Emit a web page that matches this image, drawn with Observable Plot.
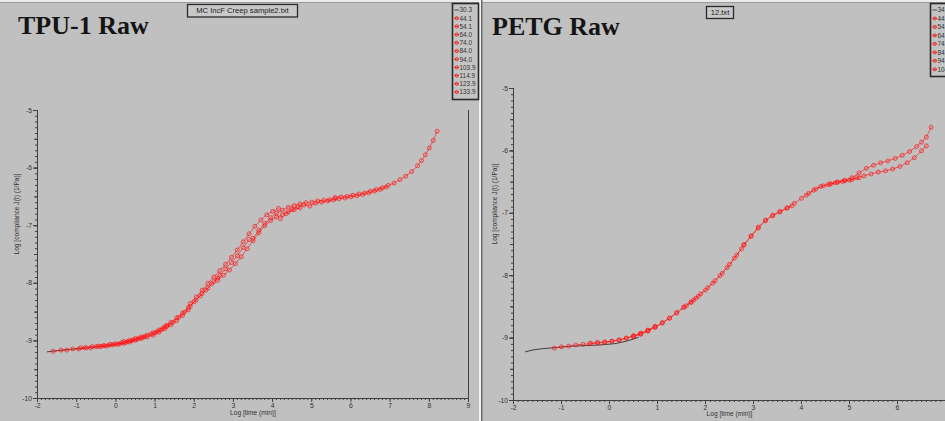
<!DOCTYPE html>
<html>
<head>
<meta charset="utf-8">
<script src="https://cdn.jsdelivr.net/npm/d3@7"></script>
<script src="https://cdn.jsdelivr.net/npm/@observablehq/plot@0.6"></script>
<style>
  html, body { margin: 0; padding: 0; }
  body { width: 945px; height: 421px; background: #c0c0c0; position: relative; overflow: hidden; }
  .panel { position: absolute; top: 0; height: 421px; }
  #overlay { position: absolute; left: 0; top: 0; pointer-events: none; }
</style>
</head>
<body>
<div id="left" class="panel" style="left:0; width:479px;"></div>
<div id="right" class="panel" style="left:483px; width:462px;"></div>
<script>
// ---- TPU-1: log time (min) vs log compliance, one array per test temperature ----
const tpuTemps = ["30.3", "44.1", "54.1", "64.0", "74.0", "84.0", "94.0", "103.9", "114.9", "123.9", "133.9"];

const tpu30 = [[-1.75,-9.19],[-1.5,-9.17],[-1.2,-9.15],[-0.9,-9.13],[-0.6,-9.11],[-0.3,-9.09],[0,-9.06],[0.3,-9.02],[0.6,-8.96]];
const tpu44 = [[-1.6,-9.18],[-1.4,-9.16],[-1.25,-9.16],[-1.1,-9.14],[-0.95,-9.14],[-0.8,-9.12],[-0.65,-9.12],[-0.5,-9.10],[-0.35,-9.09],[-0.2,-9.08],[-0.05,-9.06],[0.1,-9.05],[0.25,-9.03],[0.4,-9.00],[0.55,-8.97],[0.7,-8.94]];
const tpu54 = [[-0.9,-9.12],[-0.75,-9.12],[-0.6,-9.10],[-0.45,-9.09],[-0.3,-9.08],[-0.15,-9.06],[0,-9.05],[0.15,-9.03],[0.3,-9.01],[0.45,-8.98],[0.6,-8.95],[0.75,-8.92],[0.9,-8.88],[1.05,-8.84],[1.2,-8.78],[1.3,-8.73]];
const tpu64 = [[-0.4,-9.10],[-0.25,-9.09],[-0.1,-9.07],[0.05,-9.06],[0.2,-9.04],[0.35,-9.02],[0.5,-8.99],[0.65,-8.96],[0.8,-8.93],[0.95,-8.90],[1.1,-8.85],[1.25,-8.79],[1.4,-8.72],[1.55,-8.65],[1.7,-8.56],[1.85,-8.46]];
const tpu74 = [[0.2,-9.01],[0.35,-8.99],[0.5,-8.96],[0.65,-8.93],[0.8,-8.90],[0.95,-8.86],[1.1,-8.81],[1.25,-8.75],[1.4,-8.68],[1.55,-8.60],[1.7,-8.52],[1.85,-8.42],[2.0,-8.32],[2.15,-8.22],[2.3,-8.12],[2.45,-8.01],[2.6,-7.91]];
const tpu84 = [[1.0,-8.86],[1.15,-8.81],[1.3,-8.75],[1.45,-8.68],[1.6,-8.59],[1.75,-8.50],[1.9,-8.40],[2.05,-8.29],[2.2,-8.18],[2.35,-8.08],[2.5,-7.97],[2.65,-7.86],[2.8,-7.75],[2.95,-7.64],[3.1,-7.52],[3.25,-7.38],[3.4,-7.24]];
const tpu94 = [[1.9,-8.35],[2.05,-8.24],[2.2,-8.12],[2.35,-8.00],[2.5,-7.89],[2.65,-7.78],[2.8,-7.67],[2.95,-7.55],[3.1,-7.42],[3.25,-7.28],[3.4,-7.14],[3.55,-7.01],[3.7,-6.90],[3.85,-6.81],[4.0,-6.75],[4.15,-6.70]];
const tpu104 = [[2.6,-7.95],[2.75,-7.86],[2.9,-7.77],[3.05,-7.66],[3.2,-7.54],[3.35,-7.40],[3.5,-7.26],[3.65,-7.12],[3.8,-7.00],[3.95,-6.91],[4.1,-6.85],[4.25,-6.81],[4.4,-6.76],[4.55,-6.72],[4.7,-6.69]];
const tpu115 = [[3.5,-7.22],[3.65,-7.08],[3.8,-6.96],[3.95,-6.86],[4.1,-6.78],[4.25,-6.73],[4.4,-6.68],[4.55,-6.65],[4.7,-6.62],[4.85,-6.60],[5.0,-6.59],[5.15,-6.57],[5.3,-6.56],[5.45,-6.55],[5.6,-6.53]];
const tpu124 = [[4.2,-6.88],[4.35,-6.79],[4.5,-6.72],[4.65,-6.67],[4.8,-6.64],[4.95,-6.66],[5.1,-6.61],[5.25,-6.59],[5.4,-6.57],[5.55,-6.55],[5.7,-6.53],[5.85,-6.52],[6.0,-6.50],[6.15,-6.48],[6.3,-6.46],[6.45,-6.43],[6.6,-6.40],[6.75,-6.37],[6.9,-6.33]];
const tpu134 = [[5.6,-6.51],[5.75,-6.50],[5.9,-6.49],[6.05,-6.47],[6.2,-6.45],[6.35,-6.43],[6.5,-6.40],[6.65,-6.37],[6.8,-6.34],[6.95,-6.30],[7.1,-6.26],[7.25,-6.20],[7.4,-6.14],[7.55,-6.06],[7.7,-5.96],[7.8,-5.87],[7.9,-5.77],[8.0,-5.65],[8.1,-5.52],[8.2,-5.36]];
const tpuSeries = [tpu30, tpu44, tpu54, tpu64, tpu74, tpu84, tpu94, tpu104, tpu115, tpu124, tpu134];

// ---- PETG ----
const petgTemps = ["34.0", "44.0", "54.0", "64.0", "74.0", "84.0", "94.0", "104.0"];

const petg34 = [[-1.75,-9.22],[-1.6,-9.19],[-1.4,-9.17],[-1.1,-9.15],[-0.8,-9.13],[-0.5,-9.12],[-0.2,-9.11],[0.1,-9.09],[0.35,-9.05],[0.6,-8.99]];
const petg44 = [[-1.15,-9.16],[-1.0,-9.14],[-0.85,-9.13],[-0.7,-9.11],[-0.55,-9.10],[-0.4,-9.09],[-0.25,-9.08],[-0.1,-9.07],[0.05,-9.05],[0.2,-9.03],[0.35,-9.00],[0.5,-8.96],[0.65,-8.92],[0.8,-8.87],[0.95,-8.81]];
const petg54 = [[-0.4,-9.08],[-0.25,-9.07],[-0.1,-9.06],[0.05,-9.05],[0.2,-9.03],[0.35,-9.00],[0.5,-8.97],[0.65,-8.93],[0.8,-8.88],[0.95,-8.82],[1.1,-8.75],[1.25,-8.68],[1.4,-8.59],[1.55,-8.50],[1.7,-8.42],[1.8,-8.36]];
const petg64 = [[0.5,-8.98],[0.65,-8.94],[0.8,-8.89],[0.95,-8.83],[1.1,-8.76],[1.25,-8.68],[1.4,-8.60],[1.55,-8.51],[1.7,-8.43],[1.85,-8.33],[2.0,-8.23],[2.15,-8.12],[2.3,-8.00],[2.45,-7.87],[2.6,-7.72],[2.75,-7.57]];
const petg74 = [[1.6,-8.48],[1.75,-8.39],[1.9,-8.29],[2.05,-8.19],[2.2,-8.08],[2.35,-7.96],[2.5,-7.82],[2.65,-7.67],[2.8,-7.51],[2.95,-7.37],[3.1,-7.24],[3.25,-7.12],[3.4,-7.04],[3.55,-6.98],[3.7,-6.92],[3.8,-6.88]];
const petg84 = [[2.8,-7.50],[2.95,-7.36],[3.1,-7.22],[3.25,-7.11],[3.4,-7.03],[3.55,-6.97],[3.7,-6.91],[3.85,-6.84],[4.0,-6.76],[4.15,-6.68],[4.3,-6.61],[4.45,-6.56],[4.6,-6.53],[4.75,-6.50],[4.9,-6.48],[5.05,-6.46],[5.2,-6.43]];
const petg94 = [[4.1,-6.71],[4.25,-6.63],[4.4,-6.57],[4.55,-6.54],[4.7,-6.51],[4.85,-6.49],[5.0,-6.47],[5.15,-6.43],[5.3,-6.40],[5.45,-6.37],[5.6,-6.34],[5.75,-6.32],[5.9,-6.29],[6.05,-6.25],[6.2,-6.19],[6.35,-6.11],[6.5,-6.00],[6.6,-5.92]];
const petg104 = [[4.6,-6.53],[4.75,-6.50],[4.9,-6.47],[5.05,-6.43],[5.2,-6.35],[5.35,-6.28],[5.5,-6.23],[5.65,-6.19],[5.8,-6.16],[5.95,-6.12],[6.1,-6.07],[6.25,-6.01],[6.4,-5.93],[6.5,-5.86],[6.6,-5.78],[6.7,-5.62]];
const petgSeries = [petg34, petg44, petg54, petg64, petg74, petg84, petg94, petg104];

// ---- axis ticks ----
const tpuXTicks = d3.range(-2, 10);
const petgXTicks = d3.range(-2, 7);
const yTicks = d3.range(-10, -4);

const RED = "#ff0d0d";
const REF = "#303030";
const FONT = "'Liberation Sans', Arial, sans-serif";

function toRows(series, temps) {
  return series.flatMap((pts, i) => pts.map(([x, y]) => ({temp: temps[i], ref: i === 0, x, y})));
}

function panel({series, temps, width, marginLeft, marginRight, marginTop, marginBottom, xDomain, xTicks, xMinorMax, rightEdge, yLabelDx, xLabelDy}) {
  const rows = toRows(series, temps);
  const refRows = rows.filter(d => d.ref);
  const testRows = rows.filter(d => !d.ref);
  const minorX = d3.range(xDomain[0] * 10, xMinorMax * 10 + 1).map(v => v / 10);
  const minorY = d3.range(-100, -49).map(v => v / 10);
  const halfY = d3.range(-10, -4.9, 0.5);
  const blank = () => "";
  const marks = [
    Plot.ruleX([xDomain[0]], {stroke: "#404040", strokeWidth: 1}),
    Plot.ruleY([-10], {stroke: "#404040", strokeWidth: 1}),
    Plot.axisX(minorX, {tickSize: 2, tickFormat: blank, stroke: "#404040", label: null}),
    Plot.axisX(xTicks, {tickSize: 4, tickPadding: 1, tickFormat: d => String(d), stroke: "#404040", fill: "#333", label: null}),
    Plot.axisY(minorY, {tickSize: 2, tickFormat: blank, stroke: "#404040", label: null}),
    Plot.axisY(halfY, {tickSize: 3, tickFormat: blank, stroke: "#404040", label: null}),
    Plot.axisY(yTicks, {tickSize: 4, tickPadding: 1.5, tickFormat: d => String(d), stroke: "#404040", fill: "#333", label: null}),
    Plot.text(["Log [time (min)]"], {frameAnchor: "bottom", dy: xLabelDy, fill: "#333", fontSize: 6.6}),
    Plot.text(["Log [compliance J(t) (1/Pa)]"], {frameAnchor: "left", rotate: -90, dx: yLabelDx, fill: "#333", fontSize: 6.6}),
    Plot.line(refRows, {x: "x", y: "y", stroke: REF, strokeWidth: 0.9}),
    Plot.line(testRows, {x: "x", y: "y", z: "temp", stroke: RED, strokeWidth: 0.7, strokeOpacity: 0.85}),
    Plot.dot(testRows, {x: "x", y: "y", r: 2, stroke: RED, strokeWidth: 0.8, strokeOpacity: 0.8, fill: "#ff6a6a", fillOpacity: 0.15})
  ];
  if (rightEdge != null) marks.push(Plot.ruleX([rightEdge], {stroke: "#404040", strokeWidth: 1}));
  return Plot.plot({
    width, height: 421,
    marginLeft, marginRight, marginTop, marginBottom,
    x: {domain: xDomain},
    y: {domain: [-10, -5]},
    style: {background: "transparent", fontFamily: FONT, fontSize: "6.8px", color: "#333", overflow: "visible"},
    marks
  });
}

document.getElementById("left").append(panel({
  series: tpuSeries, temps: tpuTemps, width: 479,
  marginLeft: 37, marginRight: 11, marginTop: 110, marginBottom: 23,
  xDomain: [-2, 9], xTicks: tpuXTicks, xMinorMax: 9, rightEdge: 9,
  yLabelDx: -21, xLabelDy: 16.5
}));

document.getElementById("right").append(panel({
  series: petgSeries, temps: petgTemps, width: 462,
  marginLeft: 30, marginRight: 0, marginTop: 88, marginBottom: 21,
  xDomain: [-2, 7], xTicks: petgXTicks, xMinorMax: 6.9, rightEdge: null,
  yLabelDx: -19, xLabelDy: 15
}));

// ---- titles, file boxes, legends and panel borders ----
const svg = d3.select("body").append("svg")
  .attr("id", "overlay").attr("width", 945).attr("height", 421);

// window edges
svg.append("rect").attr("x", 0).attr("y", 0).attr("width", 945).attr("height", 2).attr("fill", "#ececec");
svg.append("line").attr("x1", 0).attr("x2", 945).attr("y1", 2.5).attr("y2", 2.5).attr("stroke", "#9a9a9a");
svg.append("rect").attr("x", 479).attr("y", 0).attr("width", 2).attr("height", 421).attr("fill", "#f2f2f2");
svg.append("rect").attr("x", 481).attr("y", 0).attr("width", 1.5).attr("height", 421).attr("fill", "#6a6a6a");

function title(x, y, text) {
  svg.append("text").attr("x", x).attr("y", y).text(text)
    .attr("font-family", "'Liberation Serif', 'Times New Roman', serif")
    .attr("font-weight", "bold").attr("font-size", 26).attr("fill", "#141414");
}
title(18, 33.5, "TPU-1 Raw");
title(492, 35, "PETG Raw");

function fileBox(x, y, w, h, text) {
  svg.append("rect").attr("x", x).attr("y", y).attr("width", w).attr("height", h)
    .attr("fill", "#c8c8c8").attr("stroke", "#2a2a2a").attr("stroke-width", 1.3);
  svg.append("text").attr("x", x + w / 2).attr("y", y + h / 2 + 2.7).text(text)
    .attr("text-anchor", "middle").attr("font-family", FONT).attr("font-size", 7.6).attr("fill", "#1a1a1a");
}
fileBox(187.5, 4.5, 110, 12.5, "MC IncF Creep sample2.txt");
fileBox(706.5, 6.5, 27, 12, "12.txt");

// legend boxes; the PETG box runs past the window edge
function legend(x, y, w, h, temps, step) {
  svg.append("rect").attr("x", x).attr("y", y).attr("width", w).attr("height", h)
    .attr("fill", "#c4c4c4").attr("stroke", "#2a2a2a").attr("stroke-width", 1.6);
  temps.forEach((t, i) => {
    const cy = y + 6.5 + i * step;
    const ref = i === 0;
    svg.append("line").attr("x1", x + 2).attr("x2", x + 6.5).attr("y1", cy).attr("y2", cy)
      .attr("stroke", ref ? REF : RED).attr("stroke-width", 0.8);
    if (!ref) svg.append("circle").attr("cx", x + 4.2).attr("cy", cy).attr("r", 1.6)
      .attr("fill", "none").attr("stroke", RED).attr("stroke-width", 0.8);
    svg.append("text").attr("x", x + 7).attr("y", cy + 2.3).text(t)
      .attr("font-family", FONT).attr("font-size", 6.4).attr("fill", "#333");
  });
}
legend(452.5, 3.5, 26, 96, tpuTemps, 8.2);
legend(930.5, 3.5, 22, 73, petgTemps, 8.47);
</script>
</body>
</html>
